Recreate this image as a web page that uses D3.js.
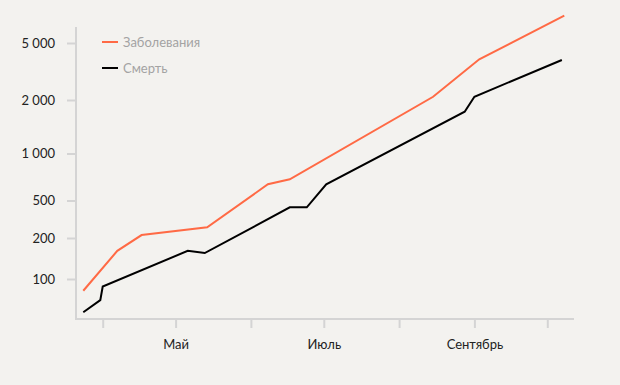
<!DOCTYPE html>
<html>
<head>
<meta charset="utf-8">
<script src="https://cdn.jsdelivr.net/npm/d3@7"></script>
<style>
  body { margin: 0; background: #f3f2ef; }
  svg { display: block; font-family: Lato, "Open Sans", sans-serif; }
</style>
</head>
<body>
<div id="chartContainer"></div>
<script>
var width = 620;
var height = 385;

// dates and counts
var casesDates = ["2020-03-24", "2020-04-07", "2020-04-17", "2020-05-14", "2020-06-08",
  "2020-06-17", "2020-08-15", "2020-09-03", "2020-10-08"];
var casesValues = [82, 161, 215, 260, 635, 684, 2107, 3849, 7756];

var deathDates = ["2020-03-24", "2020-03-31", "2020-04-01", "2020-05-06", "2020-05-13",
  "2020-06-17", "2020-06-24", "2020-07-02", "2020-08-28", "2020-09-01", "2020-10-07"];
var deathValues = [57, 70, 88, 161, 155, 423, 423, 635, 1719, 2107, 3806];

var yTicks = [100, 200, 500, 1000, 2000, 5000];
var monthNames = ["", "Май", "", "Июль", "", "Сентябрь", ""];
var legendNames = ["Заболевания", "Смерть"];
var colors = ["#ff6a45", "#000000"];

var parse = d3.timeParse("%Y-%m-%d");

var svg = d3.select('#chartContainer')
    .append('svg')
    .attr("width", width)
    .attr("height", height);

svg.append('rect').attr("width", width).attr("height", height).attr("fill", "#f3f2ef");

// time axis, one tick per month
var xScale = d3.scaleTime()
    .domain([parse("2020-03-21"), parse("2020-10-12")])
    .range([76, 574]);

// the y ticks are not evenly spaced in the original, so a piecewise log scale
var yScale = d3.scaleLog()
    .domain(yTicks)
    .range([279, 238, 200.5, 153.5, 100, 43]);

var lineFunc = d3.line()
    .x(function(d) { return xScale(d.date); })
    .y(function(d) { return yScale(d.value); });

function series(dates, values) {
  return dates.map(function(d, i) { return {date: parse(d), value: values[i]}; });
}

var axisColor = "#d4d4d4";

// y axis
var yAxisGroup = svg.append('g').attr("transform", "translate(76,0)");
yAxisGroup.call(d3.axisLeft(yScale).tickValues(yTicks).tickSize(9).tickPadding(12)
    .tickFormat(function(d) { return d3.format(",")(d).replace(",", " "); }));
yAxisGroup.select(".domain").remove();
yAxisGroup.append('line').attr("x1", 0).attr("x2", 0).attr("y1", 27).attr("y2", 320)
    .attr("stroke", axisColor).attr("stroke-width", 2);

// x axis
var months = d3.timeMonth.range(parse("2020-04-01"), parse("2020-10-02"));
var xAxisGroup = svg.append('g').attr("transform", "translate(0,319)");
xAxisGroup.call(d3.axisBottom(xScale).tickValues(months).tickSize(9).tickPadding(12)
    .tickFormat(function(d, i) { return monthNames[i]; }));
xAxisGroup.select(".domain").remove();
xAxisGroup.append('line').attr("x1", 76).attr("x2", 574).attr("y1", 0).attr("y2", 0)
    .attr("stroke", axisColor).attr("stroke-width", 2);

svg.selectAll(".tick line").attr("stroke", axisColor).attr("stroke-width", 2);
svg.selectAll(".tick text").attr("fill", "#222").style("font-size", "13px")
    .style("font-family", "Lato, sans-serif");

// lines
var g = svg.append('g').classed('lines', true);
g.append('path').attr('d', lineFunc(series(casesDates, casesValues)))
    .attr("fill", "none").attr("stroke", colors[0]).attr("stroke-width", 2);
g.append('path').attr('d', lineFunc(series(deathDates, deathValues)))
    .attr("fill", "none").attr("stroke", colors[1]).attr("stroke-width", 2);

// legend
var legend = svg.append('g').attr("transform", "translate(102,42)");
legendNames.forEach(function(name, i) {
  var row = legend.append('g').attr("transform", "translate(0," + (i * 26) + ")");
  row.append('line').attr("x1", 0).attr("x2", 16).attr("y1", 0).attr("y2", 0)
      .attr("stroke", colors[i]).attr("stroke-width", 2);
  row.append('text').attr("x", 21).attr("y", 0).attr("dy", "0.35em")
      .attr("fill", "#a3a3a3").style("font-size", "13px").text(name);
});
</script>
</body>
</html>
